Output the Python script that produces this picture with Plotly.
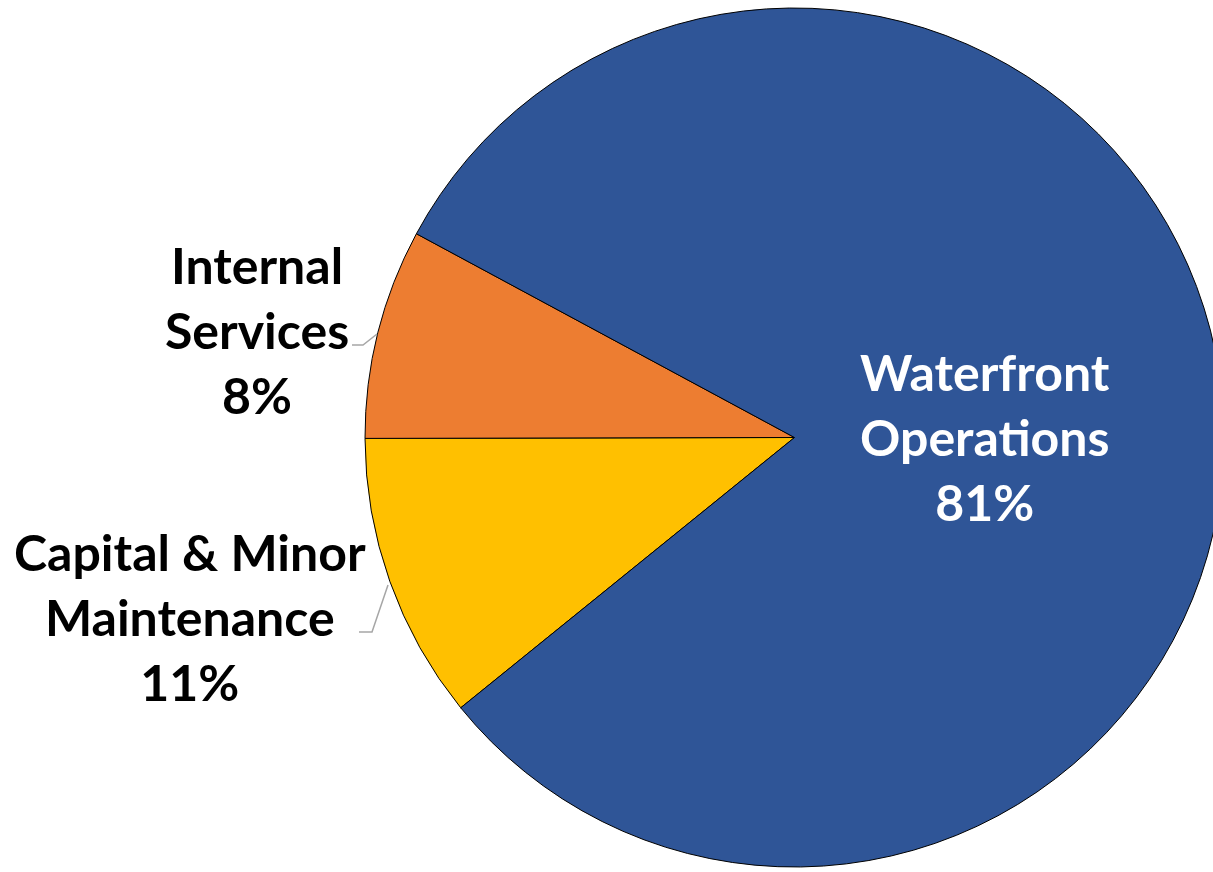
import plotly.graph_objects as go

labels = ["Capital & Minor Maintenance", "Internal Services", "Waterfront Operations"]
label_lines = [["Capital & Minor", "Maintenance"], ["Internal", "Services"], ["Waterfront", "Operations"]]
values = [10.8, 7.9, 81.3]
colors = ["#FFC000", "#ED7D31", "#2F5597"]

W, H = 1240, 872
total = sum(values)
pcts = [round(v / total * 100) for v in values]

def px(x, y):
    return x / W, 1 - y / H

fig = go.Figure(go.Pie(
    labels=labels, values=values, sort=False, direction="clockwise",
    rotation=231, marker=dict(colors=colors, line=dict(color="#000000", width=1)),
    textinfo="none", hoverinfo="label+percent", showlegend=False,
    domain=dict(x=[365 / W, 1224 / W], y=[1 - 867 / H, 1 - 8 / H]),
))

font = "Lato"
ann_pos = [(190, 617, "black"), (257, 330, "black"), (985, 437, "white")]
annotations = []
for lines, p, (x, y, c) in zip(label_lines, pcts, ann_pos):
    ax, ay = px(x, y)
    annotations.append(dict(
        x=ax, y=ay, xref="paper", yref="paper", showarrow=False,
        text="<b>" + "<br>".join(lines + [f"{p}%"]) + "</b>",
        font=dict(family=font, size=50, color=c), align="center",
        xanchor="center", yanchor="middle",
    ))

shapes = []
for pts in [[(352, 345), (363, 345), (377, 334)], [(359, 632), (372, 632), (388, 585)]]:
    path = "M " + " L ".join(f"{x / W} {1 - y / H}" for x, y in pts)
    shapes.append(dict(type="path", path=path, xref="paper", yref="paper",
                       line=dict(color="#A6A6A6", width=1.5)))

fig.update_layout(
    width=W, height=H, margin=dict(l=0, r=0, t=0, b=0),
    paper_bgcolor="white", plot_bgcolor="white",
    annotations=annotations, shapes=shapes,
)

fig.write_html("out.html", config={"displayModeBar": False},
               post_script="document.body.style.margin='0';document.body.style.overflow='hidden';document.documentElement.style.overflow='hidden';")
